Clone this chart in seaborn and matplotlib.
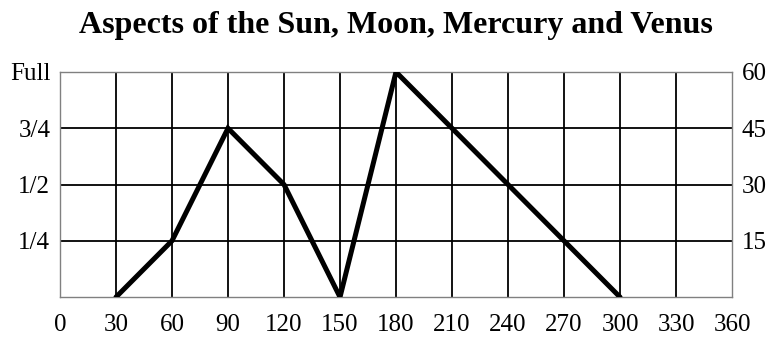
import matplotlib
matplotlib.use("Agg")
import matplotlib.pyplot as plt
import seaborn as sns
import pandas as pd

# Angular separation (degrees) and aspect value (0-60 scale)
angles = [30, 60, 90, 120, 150, 180, 210, 240, 270, 300]
aspect = [0, 15, 45, 30, 0, 60, 45, 30, 15, 0]

x_ticks = [0, 30, 60, 90, 120, 150, 180, 210, 240, 270, 300, 330, 360]
y_ticks = [15, 30, 45, 60]
left_labels = ["1/4", "1/2", "3/4", "Full"]
right_labels = ["15", "30", "45", "60"]

sns.set_theme(style="white")
plt.rcParams["font.family"] = ["Liberation Serif", "DejaVu Serif"]
plt.rcParams["text.color"] = "black"

df = pd.DataFrame({"angle": angles, "aspect": aspect})

fig, ax = plt.subplots(figsize=(7.73, 3.38), dpi=100)
fig.subplots_adjust(left=0.0776, right=0.947, top=0.787, bottom=0.121)

ax.set_xlim(0, 360)
ax.set_ylim(0, 60)

# grid lines
for xv in x_ticks[1:-1]:
    ax.axvline(xv, color="black", lw=1.3, zorder=1)
for yv in y_ticks:
    ax.axhline(yv, color="black", lw=1.3, zorder=1)

sns.lineplot(data=df, x="angle", y="aspect", ax=ax, color="black",
             lw=3.6, zorder=3, solid_joinstyle="miter")

ax.set_xticks(x_ticks)
ax.set_xticklabels([str(v) for v in x_ticks])
ax.set_yticks(y_ticks)
ax.set_yticklabels(left_labels)
ax.set_xlabel("")
ax.set_ylabel("")
ax.tick_params(axis="both", length=0, labelsize=18, colors="black")
ax.tick_params(axis="x", pad=12)
ax.tick_params(axis="y", pad=7)

for s in ax.spines.values():
    s.set_color("#808080")
    s.set_linewidth(1.0)

ax2 = ax.twinx()
ax2.set_ylim(0, 60)
ax2.set_yticks(y_ticks)
ax2.set_yticklabels(right_labels)
ax2.tick_params(axis="y", length=0, labelsize=18, pad=7, colors="black")
for s in ax2.spines.values():
    s.set_visible(False)

ax.set_title("Aspects of the Sun, Moon, Mercury and Venus",
             fontsize=23, fontweight="bold", pad=28, color="black")

fig.savefig("out.png", dpi=100)
